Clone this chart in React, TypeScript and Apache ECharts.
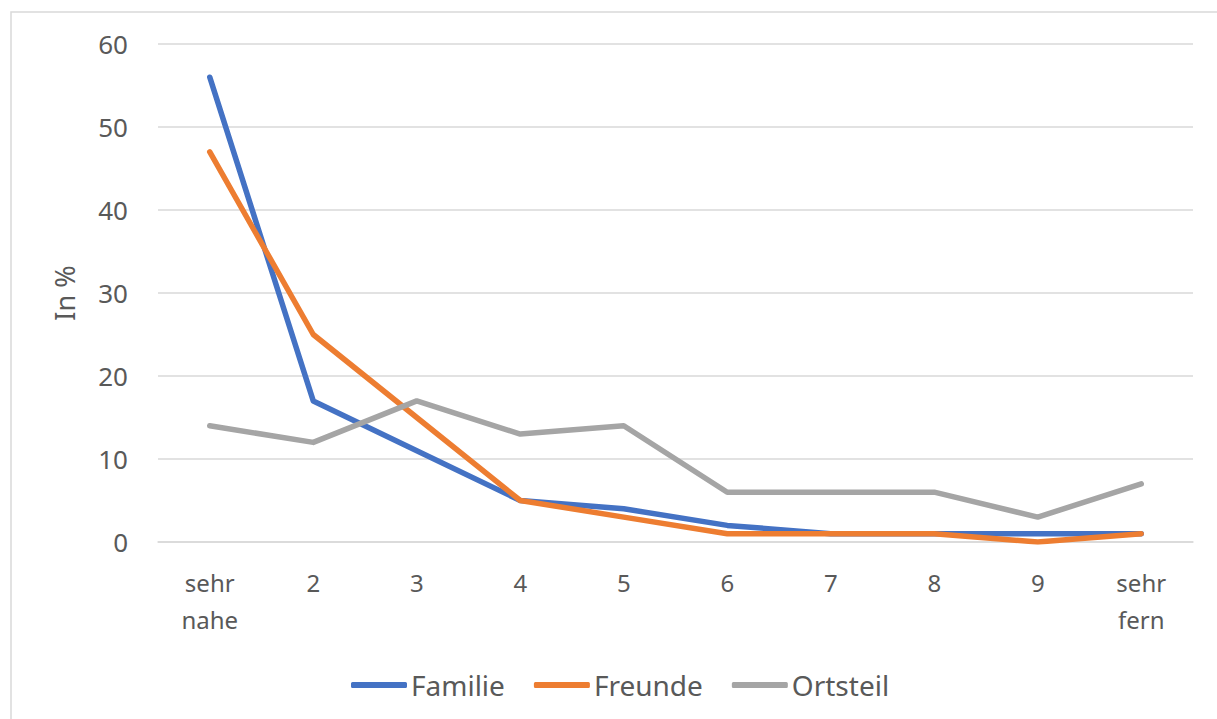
import React, { useEffect, useRef } from "react";
import * as echarts from "echarts";

const categories = ["sehr\nnahe", "2", "3", "4", "5", "6", "7", "8", "9", "sehr\nfern"];
const familie = [56, 17, 11, 5, 4, 2, 1, 1, 1, 1];
const freunde = [47, 25, 15, 5, 3, 1, 1, 1, 0, 1];
const ortsteil = [14, 12, 17, 13, 14, 6, 6, 6, 3, 7];
const seriesNames = ["Familie", "Freunde", "Ortsteil"];
const colors = ["#4472C4", "#ED7D31", "#A5A5A5"];

const FONT = "Noto Sans";
const TEXT = "#595959";

export default function App() {
  const ref = useRef<HTMLDivElement>(null);
  useEffect(() => {
    if (!ref.current) return;
    const chart = echarts.init(ref.current, undefined, { renderer: "svg" });
    const data = [familie, freunde, ortsteil];
    chart.setOption({
      animation: false,
      backgroundColor: "#ffffff",
      textStyle: { fontFamily: FONT },
      graphic: [
        {
          type: "rect",
          shape: { x: 11, y: 12, width: 1230, height: 730 },
          style: { fill: "none", stroke: "#D9D9D9", lineWidth: 1.5 },
          silent: true,
        },
      ],
      grid: { left: 158, right: 24, top: 44, bottom: 177, containLabel: false },
      legend: {
        bottom: 15,
        left: 346,
        icon: "roundRect",
        itemWidth: 56,
        itemHeight: 6,
        itemGap: 29,
        textStyle: { color: TEXT, fontSize: 28, fontFamily: FONT, padding: [0, 0, 0, -1] },
        data: seriesNames,
      },
      xAxis: {
        type: "category",
        data: categories,
        boundaryGap: true,
        axisLine: { show: true, lineStyle: { color: "#D9D9D9", width: 1.5 } },
        axisTick: { show: false },
        axisLabel: {
          color: TEXT,
          fontSize: 24,
          fontFamily: FONT,
          lineHeight: 37,
          margin: 22,
          interval: 0,
        },
      },
      yAxis: {
        type: "value",
        min: 0,
        max: 60,
        interval: 10,
        name: "In %",
        nameLocation: "middle",
        nameGap: 80,
        nameRotate: 90,
        nameTextStyle: { color: TEXT, fontSize: 27, fontFamily: FONT },
        axisLine: { show: false },
        axisTick: { show: false },
        axisLabel: { color: TEXT, fontSize: 26, fontFamily: FONT, margin: 30 },
        splitLine: { lineStyle: { color: "#D9D9D9", width: 1.5 } },
      },
      series: seriesNames.map((name, i) => ({
        name,
        type: "line",
        data: data[i],
        symbol: "none",
        color: colors[i],
        lineStyle: { color: colors[i], width: 5.5, cap: "round", join: "round" },
      })),
    });
    return () => chart.dispose();
  }, []);
  return (
    <div
      ref={ref}
      style={{ position: "fixed", left: 0, top: 0, width: 1217, height: 719 }}
    />
  );
}
